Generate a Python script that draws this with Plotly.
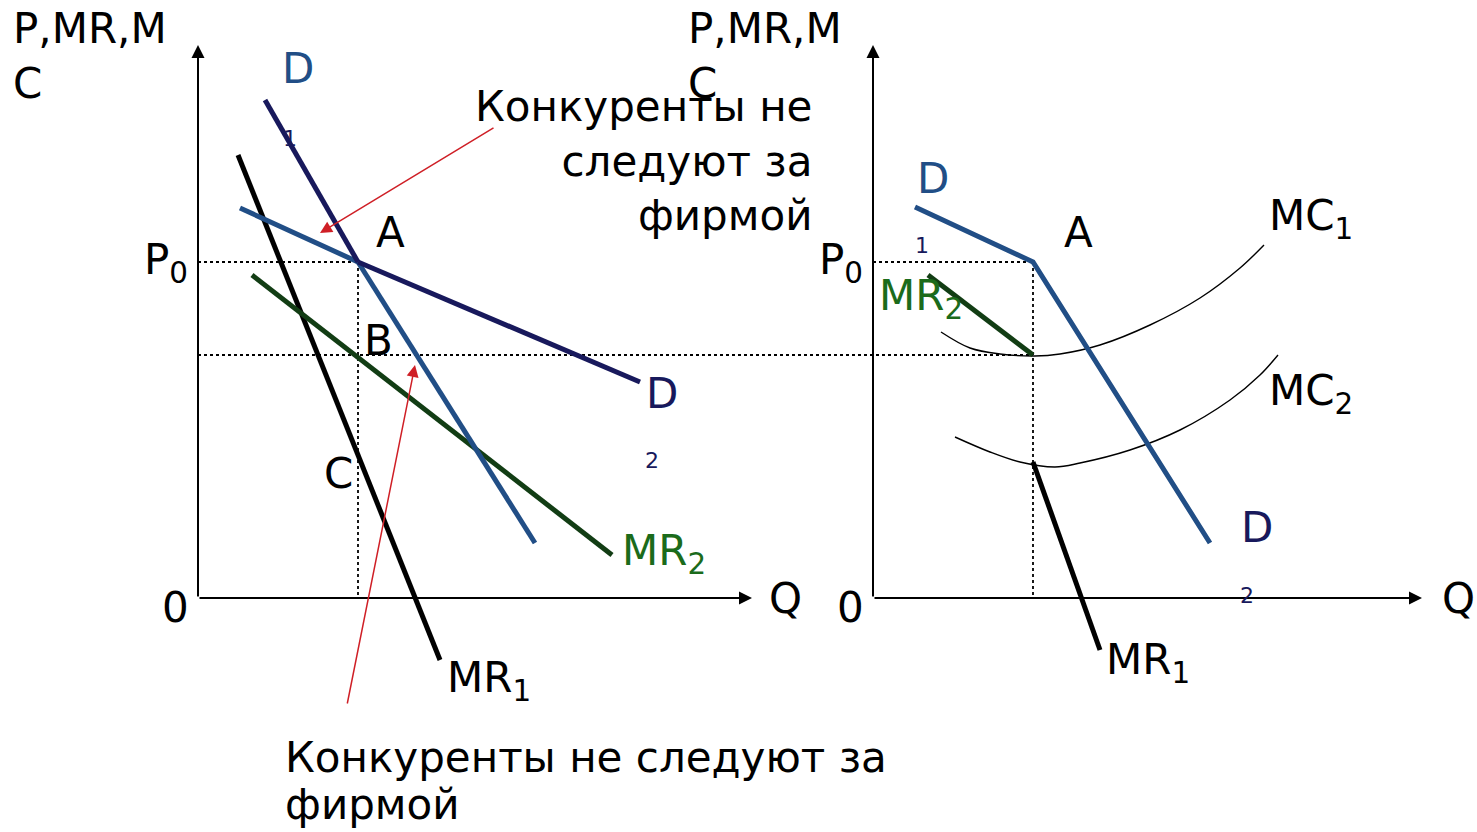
"""
Kinked demand curve (ломаная кривая спроса): two panels, P,MR,MC vs Q.
"""

import plotly.graph_objects as go

# ── Data (P and Q in arbitrary units, origin of each panel at 0,0) ──

Q0 = 16.0           # output at the kink
P0 = 33.6           # price at the kink
P_B = 24.3          # MR2 at Q0 (point B)
P_C = 14.3          # MR1 at Q0 (point C)

# left panel
d1_upper_q = [6.7, Q0]
d1_upper_p = [49.8, P0]
d1_lower_q = [Q0, 33.7]
d1_lower_p = [P0, 5.5]
d2_left_q = [4.2, Q0]
d2_left_p = [39.0, P0]
d2_right_q = [Q0, 44.2]
d2_right_p = [P0, 21.6]
mr1_q = [4.0, 24.2]
mr1_p = [44.3, -6.2]
mr2_q = [5.4, 41.4]
mr2_p = [32.3, 4.3]

# right panel
kinked_d_q = [4.2, Q0, 33.7]
kinked_d_p = [39.1, P0, 5.5]
mr2_part_q = [5.5, Q0]
mr2_part_p = [32.3, P_B]
mr1_part_q = [Q0, 22.7]
mr1_part_p = [13.6, -5.2]
mc1_q = [6.8, 9.7, 12.7, 16.2, 18.7, 22.7, 27.7, 32.7, 36.7, 39.1]
mc1_p = [26.6, 25.0, 24.4, 24.2, 24.4, 25.3, 27.3, 30.0, 33.0, 35.3]
mc2_q = [8.2, 11.7, 14.7, 18.2, 20.7, 25.7, 30.7, 35.7, 38.7, 40.5]
mc2_p = [16.1, 14.6, 13.6, 13.1, 13.5, 14.8, 16.8, 19.8, 22.3, 24.3]

NAVY = "#18195c"
BLUE = "#214e86"
GREEN_LINE = "#123d14"
GREEN_TEXT = "#1b6b1b"
RED = "#cf1f26"
FONT = "DejaVu Sans"
SIZE = 42

PANEL_GAP = 67.5    # horizontal distance between the two origins

fig = go.Figure()


def line(q, p, color, width=5, xaxis="x", dash=None, shape="linear"):
    fig.add_trace(go.Scatter(
        x=q, y=p, mode="lines", xaxis=xaxis, yaxis="y",
        line=dict(color=color, width=width, dash=dash, shape=shape),
        hoverinfo="skip", showlegend=False,
    ))


# ── Left panel ──────────────────────────────────────────────────
line([0, Q0], [P0, P0], "black", 1.8, dash="dot")
line([0, Q0 + PANEL_GAP], [P_B, P_B], "black", 1.8, dash="dot")
line([Q0, Q0], [P0, 0], "black", 1.8, dash="dot")
line(mr1_q, mr1_p, "black")
line(mr2_q, mr2_p, GREEN_LINE)
line(d2_left_q, d2_left_p, BLUE)
line(d1_lower_q, d1_lower_p, BLUE)
line(d1_upper_q, d1_upper_p, NAVY)
line(d2_right_q, d2_right_p, NAVY)

# ── Right panel ─────────────────────────────────────────────────
line([0, Q0], [P0, P0], "black", 1.8, xaxis="x2", dash="dot")
line([Q0, Q0], [P0, 0], "black", 1.8, xaxis="x2", dash="dot")
line(mc1_q, mc1_p, "black", 1.4, xaxis="x2", shape="spline")
line(mc2_q, mc2_p, "black", 1.4, xaxis="x2", shape="spline")
line(mr2_part_q, mr2_part_p, GREEN_LINE, xaxis="x2")
line(mr1_part_q, mr1_part_p, "black", xaxis="x2")
line(kinked_d_q, kinked_d_p, BLUE, xaxis="x2")

# ── Axes, labels, arrows ────────────────────────────────────────
ann = []


def text(x, y, s, xref="x", size=SIZE, color="black", xa="center",
         ya="middle", align="center"):
    ann.append(dict(x=x, y=y, xref=xref, yref="y", text=s, showarrow=False,
                    xanchor=xa, yanchor=ya, align=align,
                    font=dict(family=FONT, size=size, color=color)))


def arrow(x0, y0, x1, y1, xref="x", color="black", width=2, size=1.3):
    ann.append(dict(x=x1, y=y1, ax=x0, ay=y0, xref=xref, yref="y",
                    axref=xref, ayref="y", text="", showarrow=True,
                    arrowhead=2, arrowsize=size, arrowwidth=width,
                    arrowcolor=color))


for xr in ("x", "x2"):
    arrow(0, 0, 0, 55.3, xref=xr)
    text(-2.3, -0.9, "0", xref=xr)
    text(-0.8, P0, "P<sub>0</sub>", xref=xr, xa="right")
    text(-18.7, 59.6, "P,MR,M<br>C", xref=xr, xa="left", ya="top",
         align="left")

arrow(0, 0, 55.4, 0)
arrow(0, 0, 54.9, 0, xref="x2")
text(58.7, 0, "Q")
text(58.5, 0, "Q", xref="x2")

# left labels
text(10.0, 53.0, "D", color=BLUE)
text(9.2, 46.0, "1", size=22, color=NAVY)
text(19.2, 36.6, "A")
text(18.0, 25.8, "B")
text(14.0, 12.5, "C")
text(46.4, 20.5, "D", color=NAVY)
text(45.4, 13.8, "2", size=22, color=NAVY)
text(42.2, 4.5, "MR<sub>2</sub>", color=GREEN_TEXT, xa="left")
text(24.7, -8.2, "MR<sub>1</sub>", xa="left")

# right labels
text(6.0, 42.0, "D", xref="x2", color=BLUE)
text(4.9, 35.3, "1", xref="x2", size=22, color=NAVY)
text(20.5, 36.6, "A", xref="x2")
text(0.4, 30.0, "MR<sub>2</sub>", xref="x2", color=GREEN_TEXT, xa="left")
text(39.4, 38.0, "MC<sub>1</sub>", xref="x2", xa="left")
text(39.4, 20.5, "MC<sub>2</sub>", xref="x2", xa="left")
text(38.4, 7.1, "D", xref="x2", color=NAVY)
text(37.4, 0.3, "2", xref="x2", size=22, color=NAVY)
text(23.1, -6.4, "MR<sub>1</sub>", xref="x2", xa="left")

# notes with red pointers
text(61.6, 51.8, "Конкуренты не<br>следуют за<br>фирмой", xa="right",
     ya="top", align="right")
arrow(29.7, 47.1, 12.2, 36.5, color=RED, width=1.5, size=1.6)
text(8.5, -15.9, "Конкуренты не следуют за", xa="left")
text(8.5, -20.6, "фирмой", xa="left")
arrow(14.9, -10.7, 21.7, 23.3, color=RED, width=1.5, size=1.6)

hidden = dict(visible=False, showgrid=False, zeroline=False, fixedrange=True)
fig.update_layout(
    width=1477, height=832,
    margin=dict(l=0, r=0, t=0, b=0),
    paper_bgcolor="white", plot_bgcolor="white",
    xaxis=dict(range=[-19.8, 127.9], domain=[0, 1], **hidden),
    xaxis2=dict(range=[-19.8 - PANEL_GAP, 127.9 - PANEL_GAP], domain=[0, 1],
                overlaying="x", **hidden),
    yaxis=dict(range=[-23.4, 59.8], domain=[0, 1], **hidden),
    annotations=ann,
    font=dict(family=FONT),
)

fig.write_html("out.html", config={"displayModeBar": False},
               post_script="document.body.style.margin='0';")
